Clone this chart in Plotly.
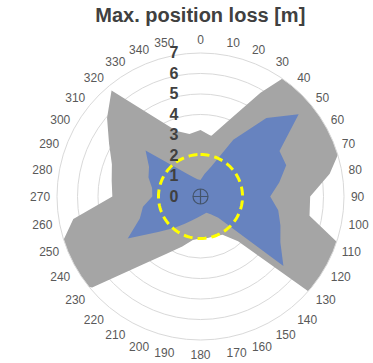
import plotly.graph_objects as go

angles = list(range(0, 360, 10))
angle_labels = [str(a) for a in angles]

# Outer (gray) series, metres
gray_r = [3.25, 3.0, 3.9, 5.85, 9.05, 9.05, 8.05, 7.35, 6.4, 5.35,
          5.4, 7.45, 8.1, 9.05, 2.85, 2.15, 2.05, 2.05, 2.05, 2.15,
          2.6, 3.2, 4.3, 6.9, 8.25, 7.3, 6.3, 4.3, 4.4, 4.6,
          5.15, 5.95, 6.75, 4.45, 3.4, 3.1]

# Inner (blue) series, metres
blue_r = [0.8, 1.12, 1.57, 3.2, 5.0, 6.25, 4.45, 4.45, 3.9, 3.4,
          3.85, 4.15, 4.5, 5.28, 1.35, 1.0, 0.85, 0.88, 0.95, 1.07,
          1.25, 1.53, 2.0, 2.7, 4.1, 3.15, 2.85, 2.35, 2.4, 2.7,
          2.9, 3.5, 1.83, 1.27, 1.0, 0.85]

limit_radius = 2.05
circle_theta = list(range(0, 361, 3))
radial_ticks = [0, 1, 2, 3, 4, 5, 6, 7]

fig = go.Figure()
fig.add_trace(go.Scatterpolar(
    r=gray_r + [gray_r[0]], theta=angles + [angles[0]],
    mode="lines", fill="toself", fillcolor="#A5A5A5",
    line=dict(width=0, color="#A5A5A5"), cliponaxis=False,
    hoverinfo="skip"))
fig.add_trace(go.Scatterpolar(
    r=blue_r + [blue_r[0]], theta=angles + [angles[0]],
    mode="lines", fill="toself", fillcolor="#6783BF",
    line=dict(width=0, color="#6783BF"), cliponaxis=False,
    hoverinfo="skip"))
fig.add_trace(go.Scatterpolar(
    r=[limit_radius] * len(circle_theta), theta=circle_theta,
    mode="lines", line=dict(color="#FFFF00", width=3, dash="9px,5px"),
    cliponaxis=False, hoverinfo="skip"))
fig.add_trace(go.Scatterpolar(
    r=[0], theta=[0], mode="markers",
    marker=dict(symbol="circle-cross-open", size=15,
                color="#44546A", line=dict(width=1.2, color="#44546A")),
    cliponaxis=False, hoverinfo="skip"))

fig.update_layout(
    width=373, height=363,
    margin=dict(l=57, r=29, t=53, b=23),
    paper_bgcolor="white", plot_bgcolor="white",
    showlegend=False,
    title=dict(text="<b>Max. position loss [m]</b>", x=0.537, xanchor="center",
               y=0.958, yanchor="middle",
               font=dict(family="Liberation Sans, Arial, sans-serif", size=20, color="#404040")),
    polar=dict(
        bgcolor="white",
        angularaxis=dict(
            rotation=90, direction="clockwise", type="linear",
            tickmode="array", tickvals=angles, ticktext=angle_labels,
            showgrid=False, showline=True, linecolor="#D9D9D9", linewidth=1,
            ticks="outside", ticklen=4, tickcolor="rgba(0,0,0,0)",
            tickfont=dict(family="Liberation Sans, Arial, sans-serif",
                          size=12, color="#595959")),
        radialaxis=dict(
            range=[0, 7], tickmode="array", tickvals=radial_ticks,
            angle=90, side="counterclockwise", tickangle=90,
            showline=False, ticks="outside", ticklen=16,
            tickcolor="rgba(0,0,0,0)", showgrid=True, gridcolor="#D9D9D9",
            tickfont=dict(family="Liberation Sans, Arial, sans-serif",
                          size=16, color="#404040", weight="bold")),
    ),
)

fig.write_html("out.html", config={"displayModeBar": False},
               post_script="document.body.style.margin='0';document.body.style.overflow='hidden';")
